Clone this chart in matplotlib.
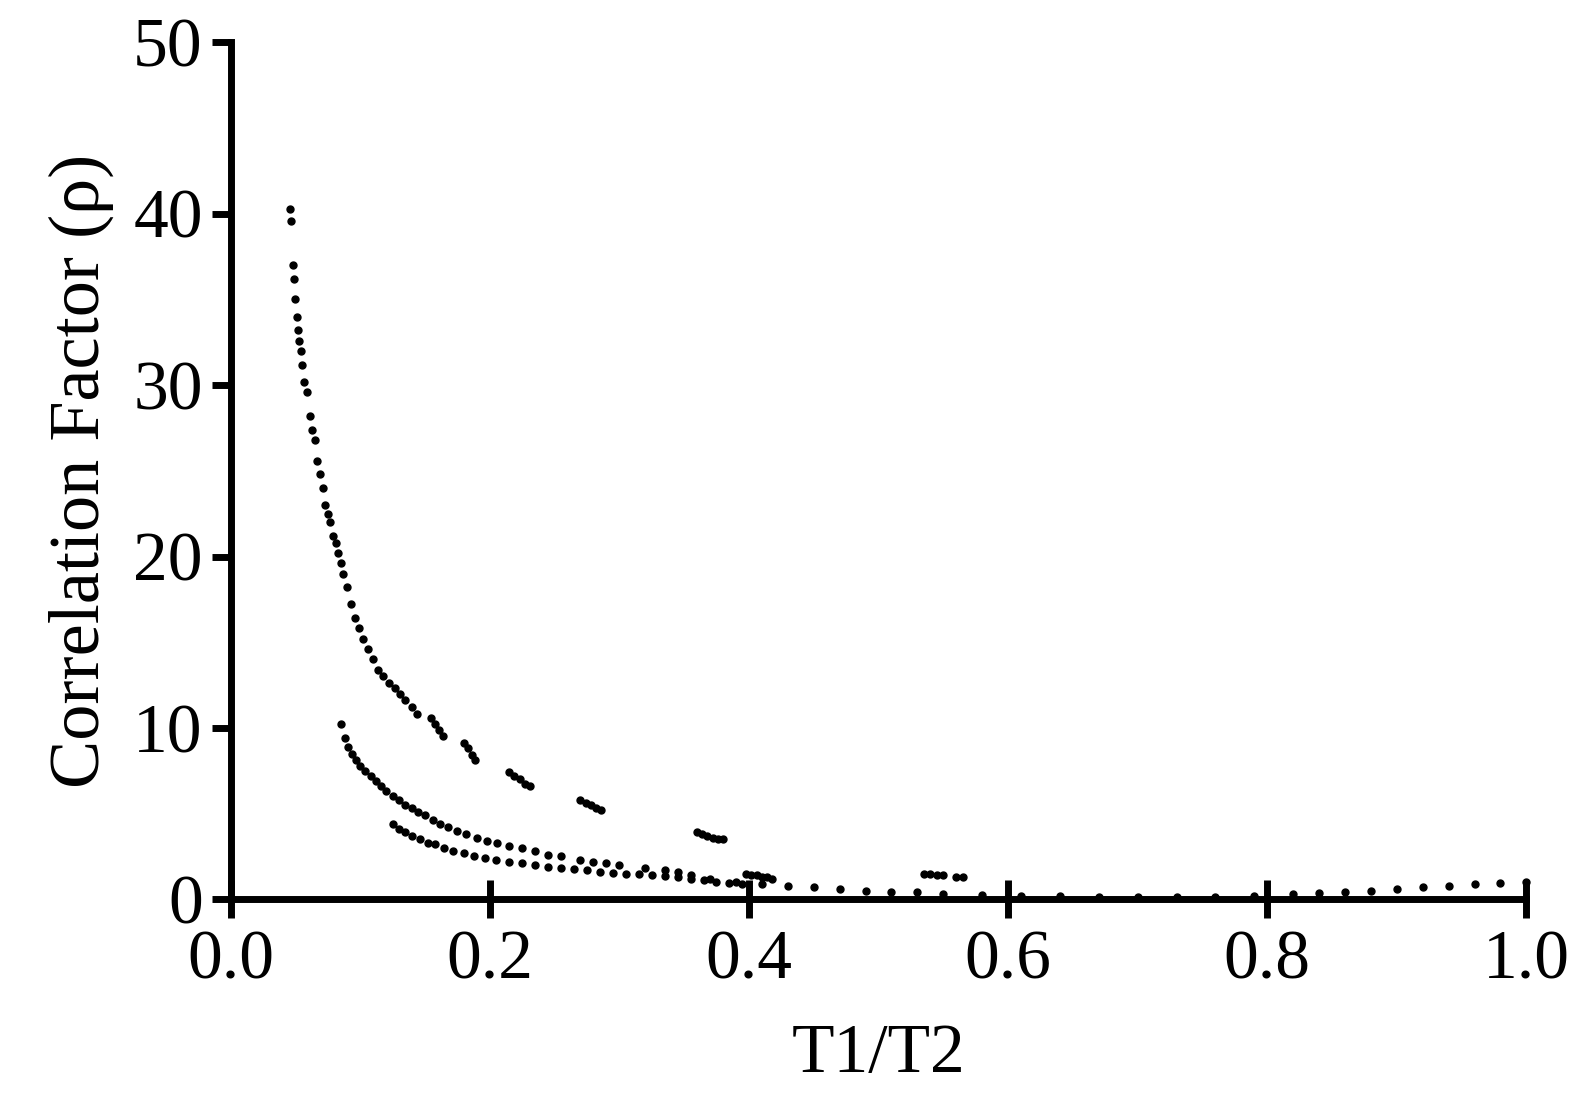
import matplotlib
matplotlib.use("Agg")
import matplotlib.pyplot as plt

# upper branch (dashed-looking clusters)
upper_x = [0.046,0.047,0.048,0.049,0.050,0.051,0.052,0.053,0.054,0.055,0.057,0.059,0.061,0.063,0.065,0.067,0.069,0.071,0.073,0.075,0.077,0.079,0.081,0.083,0.085,0.087,0.090,0.093,0.096,0.099,0.102,0.106,0.110,0.114,0.118,0.122,0.127,0.131,0.135,0.140,0.144,
           0.155,0.158,0.161,0.164,0.180,0.183,0.186,0.189,0.215,0.219,0.223,0.227,0.231,0.270,0.274,0.278,0.282,0.286,0.360,0.364,0.368,0.372,0.376,0.380,0.398,0.402,0.406,0.410,0.414,0.418,0.535,0.540,0.545,0.550,0.560,0.565]
upper_y = [40.3,39.6,37.0,36.2,35.0,34.0,33.2,32.6,32.0,31.2,30.2,29.6,28.2,27.4,26.8,25.6,24.8,24.0,23.0,22.5,22.0,21.2,20.8,20.2,19.6,19.0,18.2,17.2,16.4,15.8,15.2,14.6,14.0,13.4,13.0,12.6,12.3,12.0,11.6,11.2,10.8,
           10.6,10.2,9.9,9.5,9.1,8.8,8.4,8.1,7.4,7.2,7.0,6.7,6.6,5.8,5.6,5.5,5.3,5.2,3.9,3.8,3.7,3.6,3.5,3.5,1.5,1.4,1.4,1.3,1.3,1.2,1.5,1.5,1.4,1.4,1.3,1.3]

# middle branch
mid_x = [0.085,0.088,0.091,0.094,0.097,0.100,0.104,0.108,0.112,0.116,0.120,0.125,0.130,0.135,0.140,0.145,0.150,0.156,0.162,0.168,0.175,0.182,0.190,0.198,0.206,0.215,0.225,0.235,0.245,0.255,0.270,0.280,0.290,0.300,0.320,0.335,0.345,0.355,0.370,0.390,0.410,0.430,0.450,0.470,0.490,0.510,0.530]
mid_y = [10.2,9.4,8.9,8.5,8.1,7.8,7.5,7.2,6.9,6.6,6.3,6.0,5.8,5.5,5.3,5.1,4.9,4.6,4.4,4.2,4.0,3.8,3.6,3.4,3.3,3.1,3.0,2.8,2.6,2.5,2.3,2.2,2.1,2.0,1.8,1.7,1.6,1.4,1.2,1.0,0.9,0.8,0.7,0.6,0.5,0.45,0.4]

# lower branch
low_x = [0.125,0.130,0.135,0.140,0.146,0.152,0.158,0.165,0.172,0.180,0.188,0.196,0.205,0.215,0.225,0.235,0.245,0.255,0.265,0.275,0.285,0.295,0.305,0.315,0.325,0.335,0.345,0.355,0.365,0.375,0.385,0.395]
low_y = [4.4,4.1,3.9,3.7,3.5,3.3,3.2,3.0,2.8,2.7,2.5,2.4,2.3,2.2,2.1,2.0,1.9,1.8,1.75,1.7,1.6,1.55,1.5,1.45,1.4,1.35,1.3,1.2,1.1,1.0,0.95,0.9]

# floor and rising tail
tail_x = [0.55,0.58,0.61,0.64,0.67,0.70,0.73,0.76,0.79,0.82,0.84,0.86,0.88,0.90,0.92,0.94,0.96,0.98,1.00]
tail_y = [0.3,0.25,0.2,0.18,0.15,0.12,0.12,0.15,0.2,0.3,0.35,0.45,0.5,0.6,0.7,0.8,0.9,0.95,1.0]

plt.rcParams['font.family'] = ['Liberation Serif', 'DejaVu Serif']
fig = plt.figure(figsize=(15.9, 11.13), dpi=100)
ax = fig.add_axes([0.145, 0.192, 0.815, 0.770])
for xs, ys in [(upper_x, upper_y), (mid_x, mid_y), (low_x, low_y), (tail_x, tail_y)]:
    ax.plot(xs, ys, 'o', color='black', markersize=5, linestyle='none', clip_on=False)

ax.set_xlim(0, 1.0)
ax.set_ylim(0, 50)
ax.set_xticks([0.0, 0.2, 0.4, 0.6, 0.8, 1.0])
ax.set_xticklabels(['0.0', '0.2', '0.4', '0.6', '0.8', '1.0'])
ax.set_yticks([0, 10, 20, 30, 40, 50])
for s in ['top', 'right']:
    ax.spines[s].set_visible(False)
for s in ['left', 'bottom']:
    ax.spines[s].set_linewidth(5)
ax.tick_params(axis='x', direction='inout', length=28, width=5, labelsize=50, pad=8)
ax.tick_params(axis='y', direction='out', length=14, width=5, labelsize=50, pad=6)
ax.set_xlabel('T1/T2', fontsize=50, labelpad=22)
ax.set_ylabel('Correlation Factor (ρ)', fontsize=52, labelpad=14)
fig.savefig('out.png', dpi=100)
